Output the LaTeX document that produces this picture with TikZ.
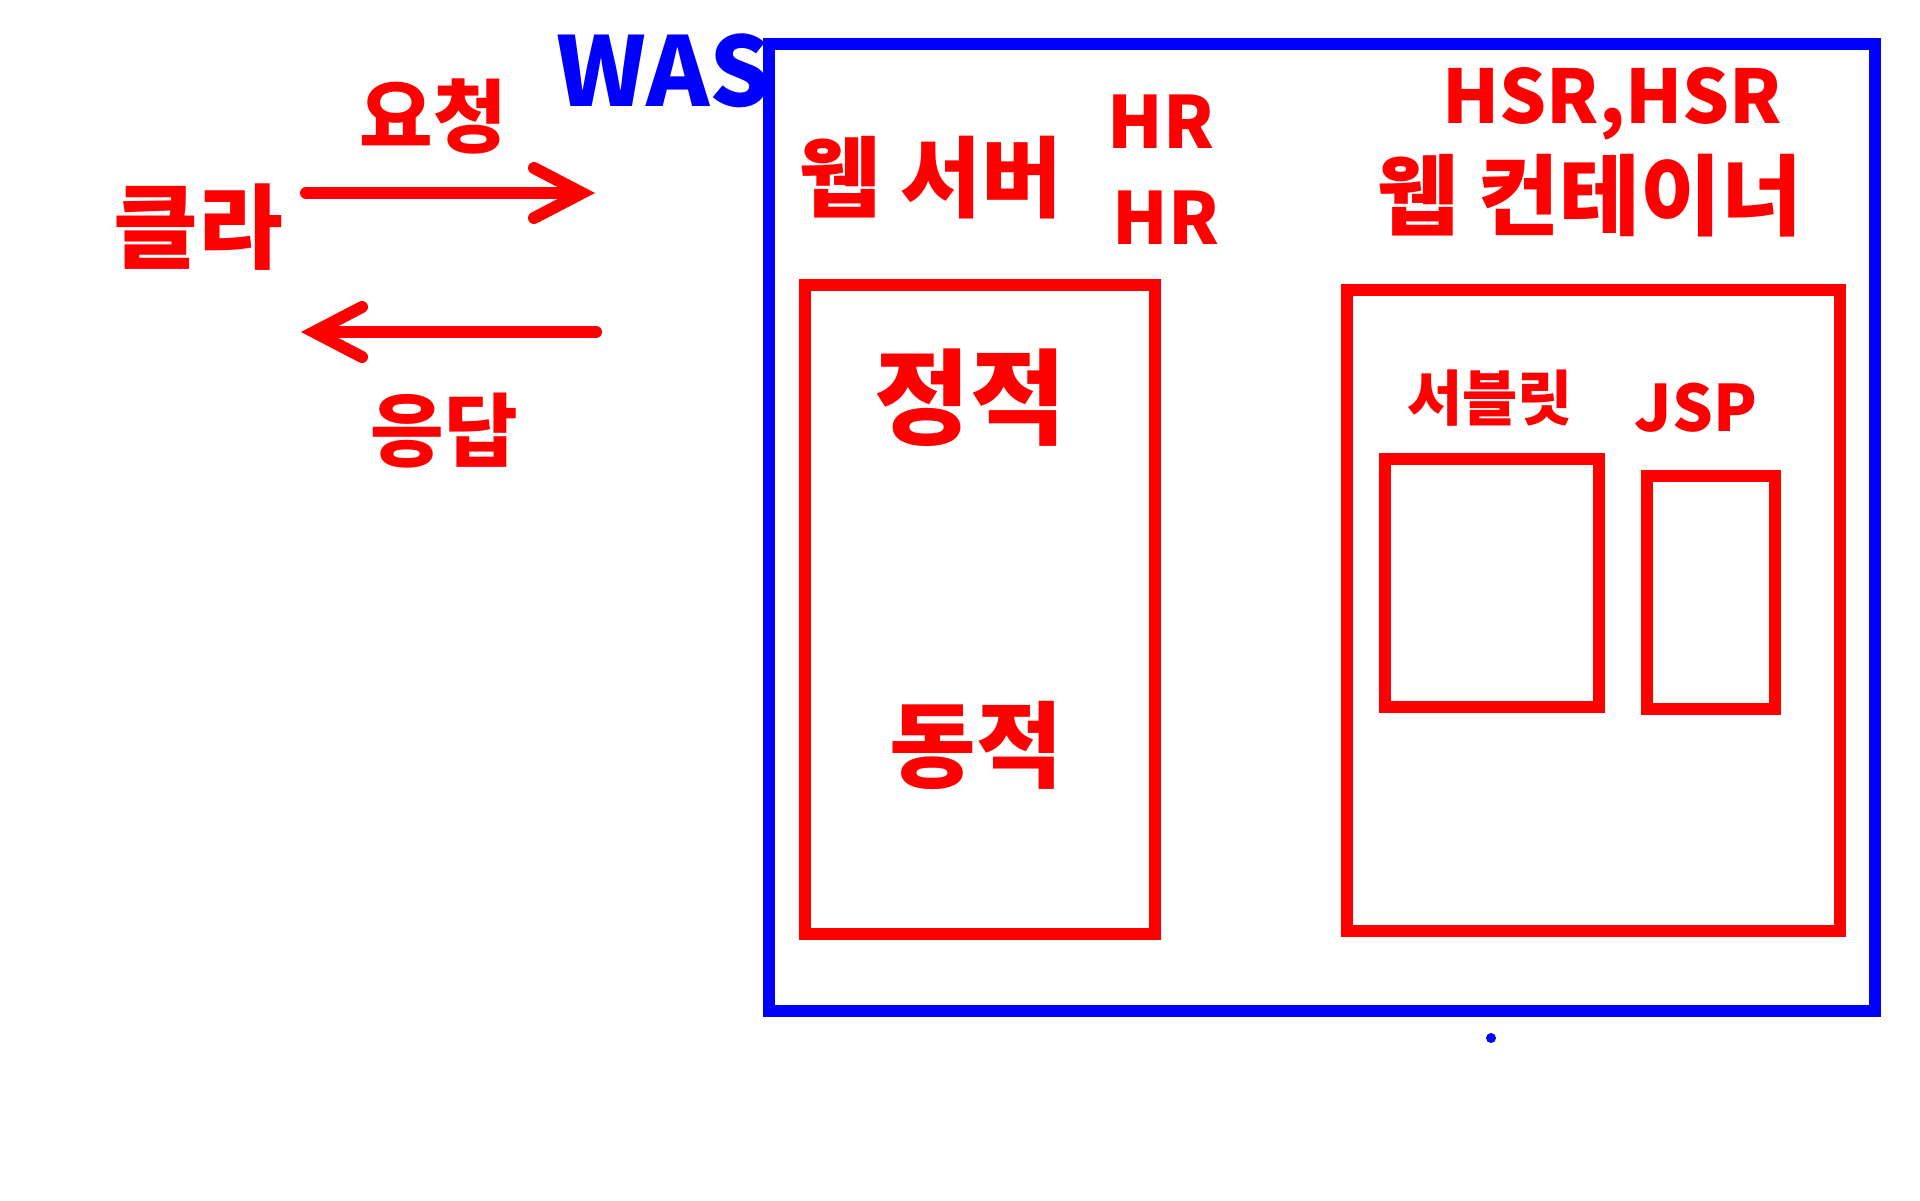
\documentclass[tikz,border=0pt]{standalone}
\usepackage{fontspec}
\newfontfamily\kr{Noto Sans CJK KR}
\usetikzlibrary{arrows.meta}

\tikzset{
  redbox/.style={rectangle, draw=red, line width=6pt},
  bluebox/.style={rectangle, draw=blue, line width=6pt},
  hand/.style={text=red, inner sep=0pt, font=\kr\bfseries\fontsize{#1}{#1}\selectfont},
  flow/.style={draw=red, line width=6pt, line cap=round,
    -{Straight Barb[length=24pt, width=25pt, line cap=round]}}
}

\begin{document}
\begin{tikzpicture}[x=0.5pt, y=-0.5pt]
\useasboundingbox (0,0) rectangle (1920,1200);

% WAS frame and its two parts
\node[bluebox, minimum width=553pt, minimum height=483.5pt] (was) at (1322,527.5) {};
\node[redbox, minimum width=175pt, minimum height=324.5pt] (websrv) at (979.6,609.8) {};
\node[redbox, minimum width=246.5pt, minimum height=320.3pt] (webctr) at (1593.5,610.3) {};
\node[redbox, minimum width=107pt, minimum height=123.7pt] (servlet) at (1492,582.8) {};
\node[redbox, minimum width=64.3pt, minimum height=116.5pt] (jsp) at (1711,592.5) {};

% texts
\node[hand=46] (client) at (198,227) {클라};
\node[hand=40] (reqtxt) at (433,116) {요청};
\node[hand=40] (restxt) at (444,431) {응답};
\node[hand=48, text=blue] (wastxt) at (664,71) {WAS};
\node[hand=44] (websrvtxt) at (931,178) {웹 서버};
\node[hand=36] (hr1) at (1161,122) {HR};
\node[hand=36] (hr2) at (1166,218) {HR};
\node[hand=37] (hsr) at (1612,104) {HSR,HSR};
\node[hand=44] (webctrtxt) at (1590,196) {웹 컨테이너};
\node[hand=52] (static) at (970,398) {정적};
\node[hand=47] (dynamic) at (976,745) {동적};
\node[hand=30] (servlettxt) at (1490,398) {서블릿};
\node[hand=32] (jsptxt) at (1696,408) {JSP};

% request / response
\coordinate (reqa) at (306,193);
\coordinate (reqb) at (595,193);
\coordinate (resa) at (596,332);
\coordinate (resb) at (301,332);
\draw[flow] (reqa) -- (reqb);
\draw[flow] (resa) -- (resb);

\node[circle, fill=blue, inner sep=0pt, minimum size=5pt] (dot) at (1491,1038) {};
\end{tikzpicture}
\end{document}
